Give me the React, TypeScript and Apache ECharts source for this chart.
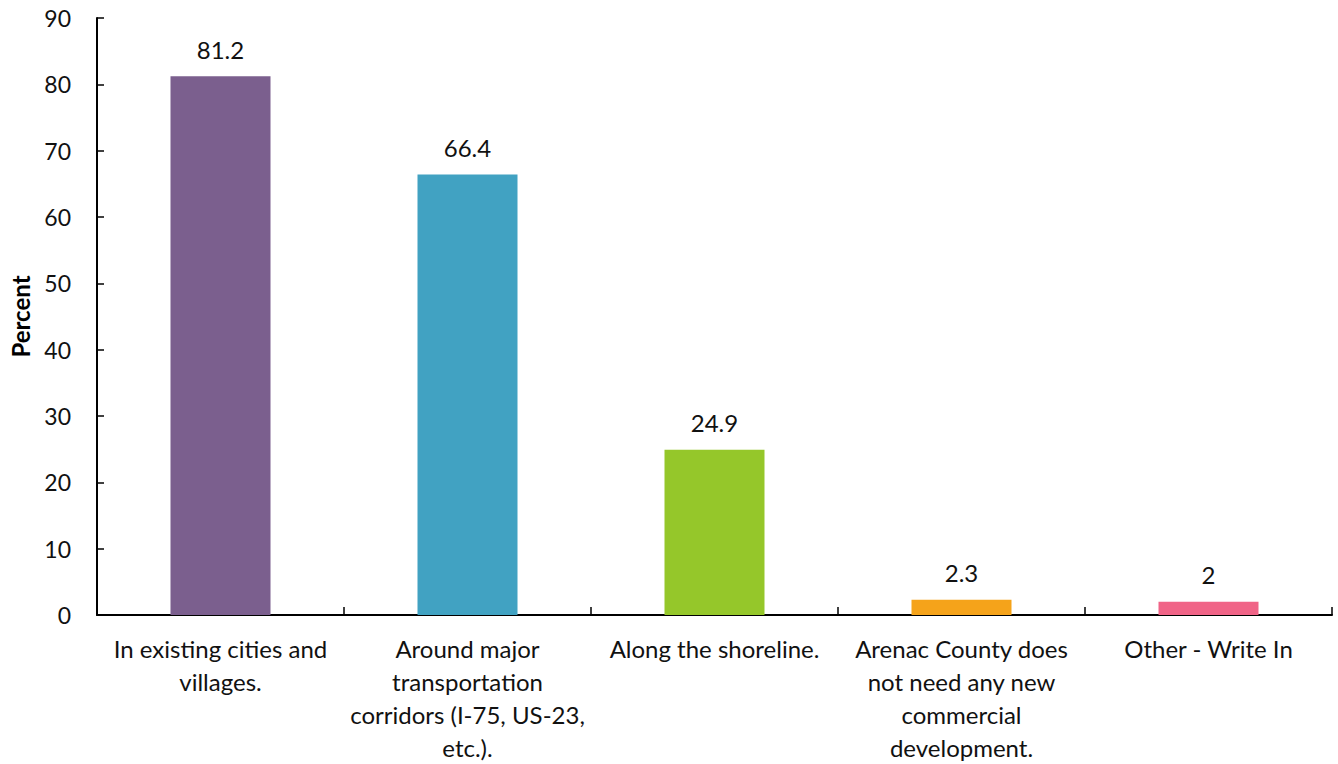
import React, { useEffect, useRef } from "react";
import * as echarts from "echarts";

const categories = [
  "In existing cities and\nvillages.",
  "Around major\ntransportation\ncorridors (I-75, US-23,\netc.).",
  "Along the shoreline.",
  "Arenac County does\nnot need any new\ncommercial\ndevelopment.",
  "Other - Write In",
];
const values = [81.2, 66.4, 24.9, 2.3, 2];
const colors = ["#7B5F8E", "#41A2C2", "#95C72A", "#F5A31A", "#F06487"];
const yTicks = { min: 0, max: 90, interval: 10 };
const yTitle = "Percent";

const FONT = "Lato, 'Open Sans', sans-serif";

export default function App() {
  const ref = useRef<HTMLDivElement>(null);
  useEffect(() => {
    if (!ref.current) return;
    const chart = echarts.init(ref.current, undefined, { renderer: "svg" });
    chart.setOption({
      animation: false,
      textStyle: { fontFamily: FONT },
      grid: { left: 94, right: 6, top: 18, bottom: 147, containLabel: false },
      xAxis: {
        type: "category",
        data: categories,
        axisLine: { lineStyle: { color: "#000", width: 2 } },
        axisTick: { show: true, inside: true, length: 8, lineStyle: { color: "#000", width: 1.5 } },
        axisLabel: {
          color: "#111",
          fontSize: 24,
          lineHeight: 33,
          margin: 17,
          interval: 0,
          fontFamily: FONT,
        },
      },
      yAxis: {
        type: "value",
        min: yTicks.min,
        max: yTicks.max,
        interval: yTicks.interval,
        name: yTitle,
        nameLocation: "middle",
        nameGap: 65,
        nameRotate: 90,
        nameTextStyle: { color: "#000", fontSize: 24, fontWeight: "bold", fontFamily: FONT },
        axisLine: { show: true, lineStyle: { color: "#000", width: 2 } },
        axisTick: { show: true, inside: true, length: 7, lineStyle: { color: "#000", width: 1.5 } },
        splitLine: { show: false },
        axisLabel: { color: "#111", fontSize: 23, margin: 26, fontFamily: FONT },
      },
      series: [
        {
          type: "bar",
          data: values.map((v, i) => ({ value: v, itemStyle: { color: colors[i] } })),
          barWidth: 100,
          label: {
            show: true,
            position: "top",
            distance: 15,
            color: "#111",
            fontSize: 24,
            fontFamily: FONT,
          },
        },
      ],
    });
    return () => chart.dispose();
  }, []);
  return (
    <div
      ref={ref}
      style={{ position: "absolute", left: 0, top: 0, width: 1338, height: 764 }}
    />
  );
}
